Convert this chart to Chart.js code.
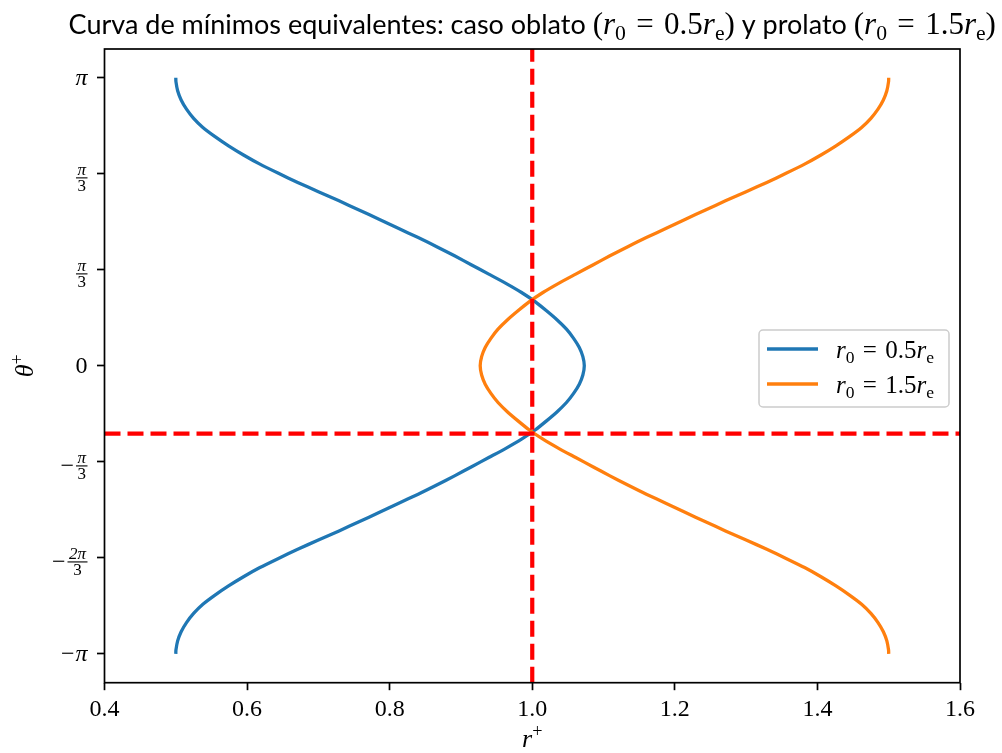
<!DOCTYPE html>
<html>
<head>
<meta charset="utf-8">
<script src="https://cdn.jsdelivr.net/npm/chart.js@4.4.1/dist/chart.umd.min.js"></script>
<style>
  body { margin: 0; background: #fff; }
  #wrap { width: 1002px; height: 753px; }
</style>
</head>
<body>
<div id="wrap"><canvas id="myChart" width="1002" height="753"></canvas></div>
<script>
// angle samples (rad), shared by both curves
const thetaValues = [3.1416, 3.1, 3.0, 2.9, 2.8, 2.7, 2.6, 2.5, 2.4, 2.3, 2.2, 2.1, 2.0, 1.9, 1.8, 1.7, 1.6, 1.5, 1.4, 1.3, 1.2, 1.1, 1.0,
  0.9, 0.8, 0.7, 0.6, 0.5, 0.4, 0.3, 0.2, 0.1, 0.0,
  -0.1, -0.2, -0.3, -0.4, -0.5, -0.6, -0.7, -0.8, -0.9, -1.0, -1.1, -1.2, -1.3, -1.4, -1.5, -1.6, -1.7, -1.8, -1.9, -2.0,
  -2.1, -2.2, -2.3, -2.4, -2.5, -2.6, -2.7, -2.8, -2.9, -3.0, -3.1, -3.1416];
// r+ for the oblate case (r0 = 0.5 re)
const rOblate = [0.500, 0.5002, 0.5026, 0.5075, 0.515, 0.525, 0.538, 0.555, 0.574, 0.595, 0.618, 0.644, 0.671, 0.700, 0.729, 0.757, 0.785, 0.812,
  0.840, 0.866, 0.891, 0.915, 0.939, 0.963, 0.985, 1.004, 1.020, 1.035, 1.048, 1.058, 1.066, 1.071, 1.073,
  1.071, 1.066, 1.058, 1.048, 1.035, 1.020, 1.004, 0.985, 0.963, 0.939, 0.915, 0.891, 0.866, 0.840, 0.812, 0.785, 0.757, 0.729, 0.700,
  0.671, 0.644, 0.618, 0.595, 0.574, 0.555, 0.538, 0.525, 0.515, 0.5075, 0.5026, 0.5002, 0.500];
// r+ for the prolate case (r0 = 1.5 re)
const rProlate = [1.500, 1.4998, 1.4974, 1.4925, 1.485, 1.475, 1.462, 1.445, 1.426, 1.405, 1.382, 1.356, 1.329, 1.300, 1.271, 1.243, 1.215, 1.188,
  1.160, 1.134, 1.109, 1.085, 1.061, 1.037, 1.015, 0.996, 0.980, 0.965, 0.952, 0.942, 0.934, 0.929, 0.927,
  0.929, 0.934, 0.942, 0.952, 0.965, 0.980, 0.996, 1.015, 1.037, 1.061, 1.085, 1.109, 1.134, 1.160, 1.188, 1.215, 1.243, 1.271, 1.300,
  1.329, 1.356, 1.382, 1.405, 1.426, 1.445, 1.462, 1.475, 1.485, 1.4925, 1.4974, 1.4998, 1.500];

const xTickValues = [0.4, 0.6, 0.8, 1.0, 1.2, 1.4, 1.6];
const yTickValues = [Math.PI, 2 * Math.PI / 3, Math.PI / 3, 0, -Math.PI / 3, -2 * Math.PI / 3, -Math.PI];
const yTickLabels = ['π', 'π/3', 'π/3', '0', '-π/3', '-2π/3', '-π'];

// reference lines
const crossR = 1.0;
const crossTheta = -0.74;

const xMin = 0.4, xMax = 1.6;
const yLimit = 1.1 * Math.PI;

const blue = '#1f77b4';
const orange = '#ff7f0e';
const serif = '"Liberation Serif", "DejaVu Serif", serif';
const sans = 'Lato, "Liberation Sans", sans-serif';

// little math-ish text runs: italic, subscripts, superscripts
const caseLabel = (val) => [{ t: 'r', it: 1 }, { t: '0', sub: 1 }, { t: '\u2004=\u2004' + val }, { t: 'r', it: 1 }, { t: 'e', sub: 1 }];
const seriesLabels = [caseLabel('0.5'), caseLabel('1.5')];

function drawRun(ctx, parts, x, y, size, draw) {
  let cx = x;
  for (const p of parts) {
    let fs = (p.sub || p.sup) ? size * 0.7 : size;
    if (p.size) fs = p.size;
    ctx.font = (p.it ? 'italic ' : '') + fs + 'px ' + (p.sans ? sans : serif);
    const dy = p.sub ? size * 0.2 : p.sup ? -size * 0.4 : 0;
    if (draw) ctx.fillText(p.t, cx, y + dy);
    cx += ctx.measureText(p.t).width;
  }
  return cx - x;
}

function drawYTick(ctx, label, xRight, y) {
  const neg = label.startsWith('-');
  const body = neg ? label.slice(1) : label;
  const [num, den] = body.split('/');
  ctx.textBaseline = 'alphabetic';
  if (!den) {
    ctx.textAlign = 'right';
    ctx.font = (num === 'π' ? 'italic ' : '') + '24px ' + serif;
    const w = ctx.measureText(num).width;
    ctx.fillText(num, xRight, y + 7);
    if (neg) {
      ctx.font = '24px ' + serif;
      ctx.fillText('−', xRight - w - 1, y + 7);
    }
    return;
  }
  const fs = 17;
  ctx.font = 'italic ' + fs + 'px ' + serif;
  const wNum = ctx.measureText(num).width;
  ctx.font = fs + 'px ' + serif;
  const wDen = ctx.measureText(den).width;
  const w = Math.max(wNum, wDen) + 3;
  const barY = y + 4;
  const cx = xRight - w / 2;
  ctx.fillRect(xRight - w, barY - 0.5, w, 1.1);
  ctx.textAlign = 'center';
  ctx.font = 'italic ' + fs + 'px ' + serif;
  ctx.fillText(num, cx, barY - 3);
  ctx.font = fs + 'px ' + serif;
  ctx.fillText(den, cx, barY + 13);
  if (neg) {
    ctx.textAlign = 'right';
    ctx.font = '24px ' + serif;
    ctx.fillText('−', xRight - w - 2, barY + 7);
  }
}

const decorations = {
  id: 'decorations',
  afterDraw(chart) {
    const ctx = chart.ctx;
    const area = chart.chartArea;
    const ys = chart.scales.y;
    ctx.save();
    ctx.fillStyle = '#000';

    // frame
    ctx.strokeStyle = '#000';
    ctx.lineWidth = 1.7;
    ctx.strokeRect(area.left, area.top, area.right - area.left, area.bottom - area.top);

    // y tick labels
    yTickValues.forEach((v, i) => drawYTick(ctx, yTickLabels[i], area.left - 17, ys.getPixelForValue(v)));

    // title: sans words, serif math
    ctx.textAlign = 'left';
    ctx.textBaseline = 'alphabetic';
    const titleParts = [{ t: 'Curva de mínimos equivalentes: caso oblato ', sans: 1, size: 27 }, { t: '(' }, ...caseLabel('0.5'), { t: ')' },
      { t: ' y prolato ', sans: 1, size: 27 }, { t: '(' }, ...caseLabel('1.5'), { t: ')' }];
    const tw = drawRun(ctx, titleParts, 0, 0, 31, false);
    drawRun(ctx, titleParts, (area.left + area.right) / 2 - tw / 2, 34, 31, true);

    // axis titles
    const xl = [{ t: 'r', it: 1 }, { t: '+', sup: 1 }];
    const xw = drawRun(ctx, xl, 0, 0, 26, false);
    drawRun(ctx, xl, (area.left + area.right) / 2 - xw / 2, 747, 26, true);
    const yl = [{ t: 'θ', it: 1 }, { t: '+', sup: 1 }];
    const yw = drawRun(ctx, yl, 0, 0, 26, false);
    ctx.save();
    ctx.translate(33, (area.top + area.bottom) / 2);
    ctx.rotate(-Math.PI / 2);
    drawRun(ctx, yl, -yw / 2, 0, 26, true);
    ctx.restore();

    // legend
    const bx = 759, by = 330, bw = 190, bh = 77;
    ctx.beginPath();
    ctx.roundRect(bx, by, bw, bh, 4);
    ctx.fillStyle = 'rgba(255,255,255,0.8)';
    ctx.fill();
    ctx.strokeStyle = '#cccccc';
    ctx.lineWidth = 1.5;
    ctx.stroke();
    [blue, orange].forEach((c, i) => {
      const ly = 349 + i * 35;
      ctx.strokeStyle = c;
      ctx.lineWidth = 3.3;
      ctx.beginPath();
      ctx.moveTo(767, ly);
      ctx.lineTo(818, ly);
      ctx.stroke();
      ctx.fillStyle = '#000';
      drawRun(ctx, seriesLabels[i], 836, ly + 9, 25, true);
    });
    ctx.restore();
  }
};

new Chart('myChart', {
  type: 'scatter',
  data: {
    datasets: [
      {
        label: 'oblato',
        data: thetaValues.map((t, i) => ({ x: rOblate[i], y: t })),
        showLine: true, borderColor: blue, borderWidth: 3.3, pointRadius: 0, tension: 0.2, order: 2
      },
      {
        label: 'prolato',
        data: thetaValues.map((t, i) => ({ x: rProlate[i], y: t })),
        showLine: true, borderColor: orange, borderWidth: 3.3, pointRadius: 0, tension: 0.2, order: 1
      },
      {
        label: 'vline',
        data: [{ x: crossR, y: -yLimit }, { x: crossR, y: yLimit }],
        showLine: true, borderColor: 'red', borderWidth: 4.2, borderDash: [16, 7], pointRadius: 0, order: 0
      },
      {
        label: 'hline',
        data: [{ x: xMin, y: crossTheta }, { x: xMax, y: crossTheta }],
        showLine: true, borderColor: 'red', borderWidth: 4.2, borderDash: [16, 7], pointRadius: 0, order: 0
      }
    ]
  },
  options: {
    responsive: false,
    animation: false,
    devicePixelRatio: 1,
    layout: { padding: { left: 97, right: 42, top: 49, bottom: 24 } },
    plugins: { legend: { display: false }, tooltip: { enabled: false } },
    scales: {
      x: {
        type: 'linear', min: xMin, max: xMax,
        afterBuildTicks: s => { s.ticks = xTickValues.map(v => ({ value: v })); },
        ticks: { callback: v => v.toFixed(1), color: '#000', font: { family: serif, size: 24 }, padding: 5, maxRotation: 0 },
        grid: { drawOnChartArea: false, tickLength: 7.5, tickColor: '#000', tickWidth: 1.7 },
        border: { display: false }
      },
      y: {
        type: 'linear', min: -yLimit, max: yLimit,
        afterBuildTicks: s => { s.ticks = yTickValues.map(v => ({ value: v })); },
        ticks: { display: false },
        grid: { drawOnChartArea: false, tickLength: 7.5, tickColor: '#000', tickWidth: 1.7 },
        border: { display: false }
      }
    }
  },
  plugins: [decorations]
});
</script>
</body>
</html>
